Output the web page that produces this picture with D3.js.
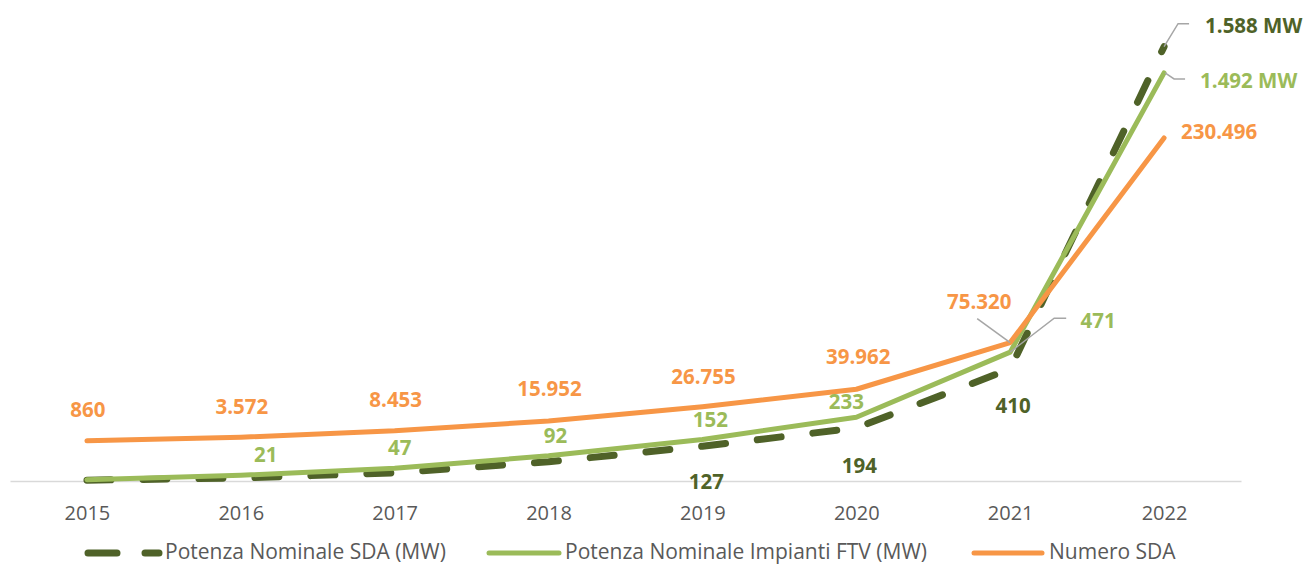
<!DOCTYPE html>
<html>
<head>
<meta charset="utf-8">
<script src="https://cdn.jsdelivr.net/npm/d3@7"></script>
<style>
  html, body { margin: 0; padding: 0; background: #ffffff; }
  svg { display: block; font-family: "Open Sans", "DejaVu Sans", sans-serif; }
</style>
</head>
<body>
<svg id="chart" width="1312" height="565"></svg>
<script>
// Years on the category axis
const years = ["2015", "2016", "2017", "2018", "2019", "2020", "2021", "2022"];

// Potenza Nominale SDA (MW) — primary axis
const sdaPower = [3, 11, 30, 70, 127, 194, 410, 1588];
// Potenza Nominale Impianti FTV (MW) — primary axis
const ftvPower = [5, 21, 47, 92, 152, 233, 471, 1492];
// Numero SDA — secondary axis
const sdaCount = [860, 3572, 8453, 15952, 26755, 39962, 75320, 230496];

// Which points carry a value label
const sdaPowerLabelled = [false, false, false, false, true, true, true, true];
const ftvPowerLabelled = [false, true, true, true, true, true, true, true];
const sdaCountLabelled = [true, true, true, true, true, true, true, true];

const seriesNames = ["Potenza Nominale SDA (MW)", "Potenza Nominale Impianti FTV (MW)", "Numero SDA"];

const colors = { sda: "#4F6228", ftv: "#9BBB59", count: "#F79646", text: "#595959", grid: "#D9D9D9", leader: "#A6A6A6" };

// Italian number format: dot as thousands separator
const fmt = d3.formatLocale({ decimal: ",", thousands: ".", grouping: [3], currency: ["€", ""] }).format(",d");

const svg = d3.select("#chart");

const x = d3.scalePoint().domain(years).range([10, 1241]).padding(0.5);
const yMW = d3.scaleLinear().domain([0, 1700]).range([481, 16]);
const yCount = d3.scaleLinear().domain([-29600, 322900]).range([481, 16]);

// Category axis (only the baseline and year labels)
const xAxis = d3.axisBottom(x).tickSize(0).tickPadding(25);
const gx = svg.append("g").attr("transform", "translate(0,481)").call(xAxis);
gx.select(".domain").attr("stroke", colors.grid).attr("stroke-width", 1.5);
gx.selectAll("text").attr("fill", colors.text).attr("font-size", 20)
  .attr("font-family", "'Open Sans', sans-serif");

const lineMW = d3.line().x((d, i) => x(years[i])).y(d => yMW(d));
const lineCount = d3.line().x((d, i) => x(years[i])).y(d => yCount(d));

// Series lines, drawn in series order
svg.append("path").datum(sdaPower).attr("d", lineMW)
  .attr("fill", "none").attr("stroke", colors.sda).attr("stroke-width", 7)
  .attr("stroke-linecap", "round").attr("stroke-linejoin", "round")
  .attr("stroke-dasharray", "24 32");
svg.append("path").datum(ftvPower).attr("d", lineMW)
  .attr("fill", "none").attr("stroke", colors.ftv).attr("stroke-width", 5)
  .attr("stroke-linecap", "round").attr("stroke-linejoin", "round");
svg.append("path").datum(sdaCount).attr("d", lineCount)
  .attr("fill", "none").attr("stroke", colors.count).attr("stroke-width", 5)
  .attr("stroke-linecap", "round").attr("stroke-linejoin", "round");

// Label placement relative to each point: [dx, dy, anchor]
const sdaLabelPos = [null, null, null, null, [4, 35, "middle"], [3, 37, "middle"], [3, 36, "middle"], [41, -22, "start"]];
const ftvLabelPos = [null, [25, -21, "middle"], [5, -21, "middle"], [7, -21, "middle"], [8, -20, "middle"], [-10, -16, "middle"], [88, -32, "middle"], [36, 7, "start"]];
const countLabelPos = [[1, -32, "middle"], [1, -31, "middle"], [1, -32, "middle"], [1, -33, "middle"], [1, -31, "middle"], [2, -33, "middle"], [-31, -42, "middle"], [17, -7, "start"]];

// Leader lines from the label to its point, as offsets from the point
const leaders = [
  { scale: yCount, values: sdaCount, i: 6, pts: [[-33, -24], [0, 0]] },
  { scale: yMW, values: ftvPower, i: 6, pts: [[0, 0], [44, -34], [56, -34]] },
  { scale: yMW, values: sdaPower, i: 7, pts: [[0, 0], [14, -23], [25, -23]] },
  { scale: yMW, values: ftvPower, i: 7, pts: [[1, 0], [10, 6], [21, 6]] }
];
leaders.forEach(l => {
  const px = x(years[l.i]), py = l.scale(l.values[l.i]);
  svg.append("polyline")
    .attr("points", l.pts.map(p => [px + p[0], py + p[1]].join(",")).join(" "))
    .attr("fill", "none").attr("stroke", colors.leader).attr("stroke-width", 1.5);
});

function drawLabels(values, labelled, pos, scale, color, unit) {
  values.forEach((v, i) => {
    if (!labelled[i] || !pos[i]) return;
    const [dx, dy, anchor] = pos[i];
    const isLast = i === values.length - 1;
    svg.append("text")
      .attr("x", x(years[i]) + dx)
      .attr("y", scale(v) + dy)
      .attr("text-anchor", anchor)
      .attr("dominant-baseline", "central")
      .attr("fill", color)
      .attr("font-size", 20.5)
      .attr("font-weight", "bold")
      .text(fmt(v) + (isLast && unit ? " " + unit : ""));
  });
}
drawLabels(sdaPower, sdaPowerLabelled, sdaLabelPos, yMW, colors.sda, "MW");
drawLabels(ftvPower, ftvPowerLabelled, ftvLabelPos, yMW, colors.ftv, "MW");
drawLabels(sdaCount, sdaCountLabelled, countLabelPos, yCount, colors.count, null);

// Legend
const legendY = 553;
const legend = svg.append("g").attr("font-size", 21).attr("fill", colors.text);
const legendItems = [
  { name: seriesNames[0], color: colors.sda, x1: 88, x2: 159, width: 7, dash: "29 28", tx: 165 },
  { name: seriesNames[1], color: colors.ftv, x1: 489, x2: 559, width: 5, dash: null, tx: 565 },
  { name: seriesNames[2], color: colors.count, x1: 974, x2: 1042, width: 5, dash: null, tx: 1049 }
];
legendItems.forEach(it => {
  legend.append("line")
    .attr("x1", it.x1).attr("x2", it.x2).attr("y1", legendY).attr("y2", legendY)
    .attr("stroke", it.color).attr("stroke-width", it.width).attr("stroke-linecap", "round")
    .attr("stroke-dasharray", it.dash);
  legend.append("text").attr("x", it.tx).attr("y", legendY - 2)
    .attr("dominant-baseline", "central").text(it.name);
});
</script>
</body>
</html>
